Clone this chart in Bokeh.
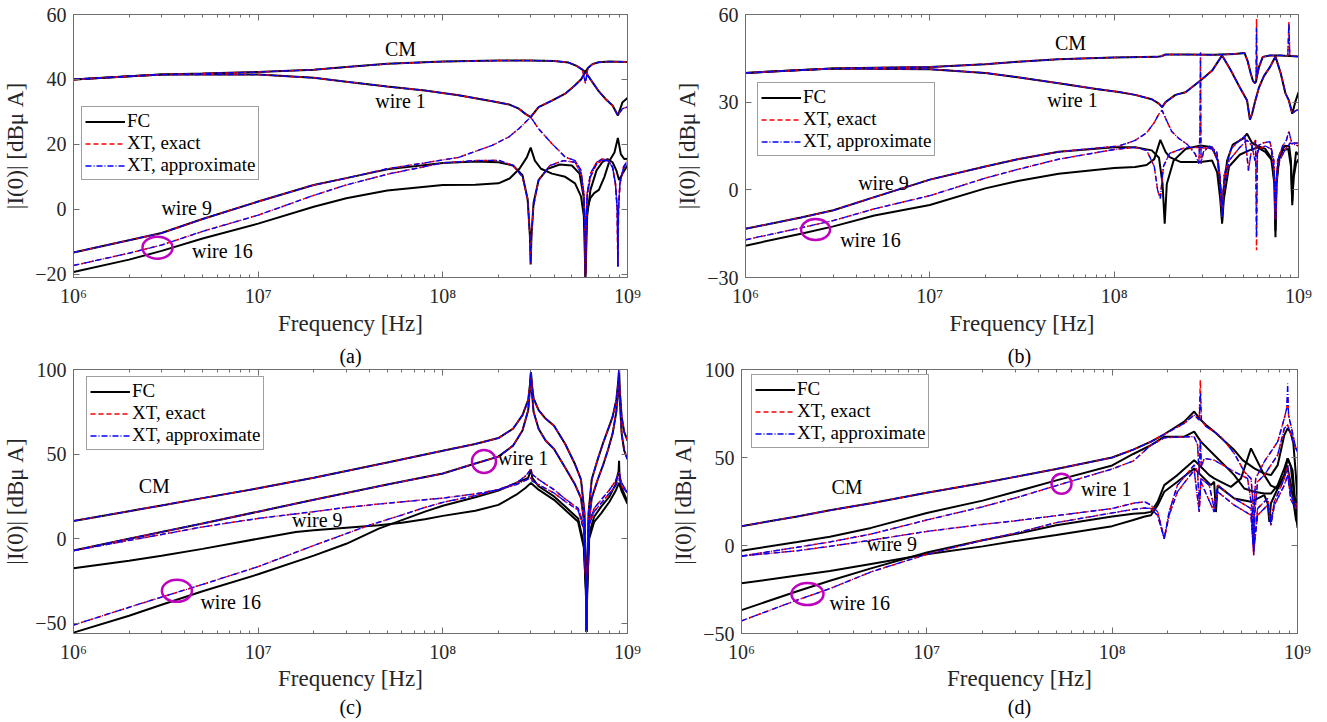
from bokeh.plotting import figure
from bokeh.layouts import column, row
from bokeh.models import FixedTicker, LogAxis, LinearAxis, Legend, LegendItem, Title
from bokeh.core.properties import value
from bokeh.embed import file_html
from bokeh.resources import INLINE

SERIF = "Liberation Serif"
AX = "#6e6e6e"
X_TICKS = [1e6, 1e7, 1e8, 1e9]
X_TICK_LABELS = ["10\u2076", "10\u2077", "10\u2078", "10\u2079"]
X_MINOR = [m * 10 ** e for e in (6, 7, 8) for m in range(2, 10)]
LEGEND_LABELS = ["FC", "XT, exact", "XT, approximate"]
LABEL_TEXTS = ["CM", "wire 1", "wire 9", "wire 16"]
SUB_LABELS = ["(a)", "(b)", "(c)", "(d)"]
Y_LABEL = "|I(0)| [dB\u03bc A]"
X_LABEL = "Frequency [Hz]"

# ---------------- panel (a) ----------------
A_CM_F = [1e6, 2e6, 3e6, 5e6, 1e7, 2e7, 3e7, 5e7, 1e8, 2e8, 3e8, 4e8, 4.8e8, 5.3e8, 5.7e8, 5.92e8, 6.1e8, 6.5e8, 7e8, 8e8, 1e9]
A_CM_FC = [40, 41, 41.5, 41.8, 42.3, 43, 43.8, 44.8, 45.5, 45.8, 45.8, 45.7, 45.2, 44.2, 43, 42.3, 43.5, 44.8, 45.3, 45.5, 45.4]
A_CM_XT = [40, 41, 41.5, 41.8, 42.3, 43, 43.8, 44.8, 45.5, 45.8, 45.8, 45.7, 45.2, 44.2, 43, 38.8, 43.5, 44.8, 45.3, 45.5, 45.4]
A_W1_F = [1e6, 3e6, 1e7, 2e7, 3e7, 5e7, 8e7, 1.22e8, 1.85e8, 2.28e8, 2.58e8, 2.8e8, 2.99e8, 3.3e8, 3.9e8, 4.6e8, 5.2e8, 5.6e8, 5.92e8, 6.4e8, 7e8, 7.6e8, 8.3e8, 8.87e8, 9.4e8, 1e9]
A_W1_FC = [40, 41.5, 41.5, 40.5, 39.3, 37.8, 36.6, 35.1, 33.3, 32.3, 31, 29.4, 28.4, 31.5, 33.5, 35.6, 38.2, 40, 42.3, 39.5, 36.3, 34, 32, 28.9, 33, 34.3]
A_W1_XT = [40, 41.5, 41.5, 40.5, 39.3, 37.8, 36.6, 35.1, 33.3, 32.3, 31, 29.4, 28.4, 31.5, 33.5, 35.6, 38.2, 40, 42.3, 39.5, 36.3, 34, 32, 28.9, 31, 31.5]
A_F9_F = [1e6, 2e6, 3e6, 5e6, 1e7, 2e7, 3e7, 5e7, 1e8, 1.5e8, 2e8, 2.4e8, 2.7e8, 2.88e8, 2.96e8, 2.99e8, 3.02e8, 3.1e8, 3.3e8, 3.7e8, 4.3e8, 5e8, 5.5e8, 5.78e8, 5.88e8, 5.92e8, 5.96e8, 6.05e8, 6.3e8, 6.6e8, 7e8, 7.5e8, 8e8, 8.5e8, 8.87e8, 9.2e8, 9.6e8, 1e9]
A_F9_V = [-13.3, -9.5, -7.3, -3, 2.4, 7.5, 9.6, 12.3, 14.3, 14.7, 14.5, 13.5, 10.5, 3, -8, -17, -8, 2, 9, 12.5, 13.8, 13.5, 11, 4, -6, -21, -6, 0, 3.5, 5, 6, 10, 15, 17.5, 22, 17, 15.5, 15.6]
A_F16_F = [1e6, 2e6, 3e6, 5e6, 1e7, 2e7, 3e7, 5e7, 1e8, 1.5e8, 2e8, 2.3e8, 2.6e8, 2.85e8, 2.99e8, 3.15e8, 3.4e8, 3.9e8, 4.6e8, 5.2e8, 5.6e8, 5.8e8, 5.92e8, 6.05e8, 6.3e8, 6.8e8, 7.3e8, 7.8e8, 8.3e8, 8.7e8, 9e8, 9.4e8, 1e9]
A_F16_V = [-19.3, -15.5, -12.8, -9, -4.4, 0.8, 3.4, 5.8, 7.5, 7.6, 8, 9.5, 12.5, 16, 19, 15, 12.5, 11, 10, 8, 4, -2, -21, -2, 6, 12, 14.5, 15.5, 14.5, 12, 9, 11, 13.5]
A_X9_F = [1e6, 2e6, 3e6, 5e6, 1e7, 2e7, 3e7, 5e7, 8e7, 1.22e8, 1.85e8, 2.28e8, 2.6e8, 2.8e8, 2.99e8, 3.3e8, 3.9e8, 4.6e8, 5.2e8, 5.6e8, 5.8e8, 5.88e8, 5.92e8, 5.96e8, 6.05e8, 6.3e8, 6.8e8, 7.3e8, 7.8e8, 8.3e8, 8.6e8, 8.8e8, 8.87e8, 8.94e8, 9.1e8, 9.5e8, 1e9]
A_X9_V = [-13.3, -9.5, -7.3, -3, 2.4, 7.5, 9.6, 12.5, 14.3, 16, 19.7, 22.3, 25, 26.8, 28.4, 24.8, 20.2, 16.1, 15, 12, 5, -5, -21, -5, 5, 11, 14.5, 15.5, 15.3, 13, 8, 0, -17.7, 0, 8, 13, 15]
A_X16_F = [1e6, 2e6, 3e6, 5e6, 1e7, 2e7, 3e7, 5e7, 1e8, 1.5e8, 2e8, 2.4e8, 2.7e8, 2.88e8, 2.96e8, 2.99e8, 3.02e8, 3.1e8, 3.3e8, 3.8e8, 4.5e8, 5.2e8, 5.6e8, 5.8e8, 5.88e8, 5.92e8, 5.96e8, 6.05e8, 6.3e8, 6.8e8, 7.3e8, 7.8e8, 8.3e8, 8.6e8, 8.8e8, 8.87e8, 8.94e8, 9.1e8, 9.5e8, 1e9]
A_X16_V = [-17.3, -13.5, -11, -6.8, -1.8, 4.3, 7.5, 10.8, 14.3, 15, 15.1, 13.5, 10, 3, -8, -16.7, -8, 1, 9, 13.5, 15, 14.5, 11, 4, -6, -21, -6, 4, 10, 14, 15, 15, 13, 8, 0, -17.7, 0, 8, 12.5, 14.5]
A_LBL_F = [5.9e7, 5.9e7, 4.1e6, 6.4e6]
A_LBL_V = [49.5, 33.5, 0.3, -12.7]
A_CIRC_F = [2.85e6]
A_CIRC_V = [-11.8]

# ---------------- panel (b) ----------------
B_CM_F = [1e6, 2e6, 3e6, 5e6, 1e7, 2e7, 3e7, 5e7, 1e8, 1.7e8, 1.8e8, 1.9e8, 2.5e8, 3.5e8, 4.5e8, 5.1e8, 5.3e8, 5.5e8, 5.65e8, 5.8e8, 5.88e8, 5.92e8, 5.96e8, 6.1e8, 6.4e8, 7e8, 8e8, 8.75e8, 8.87e8, 8.97e8, 9.5e8, 1e9]
B_CM_FC = [40, 41, 41.5, 41.8, 42, 43, 43.8, 44.7, 45.3, 45.5, 45.7, 46.3, 46.3, 46.2, 46.5, 46.8, 44, 40, 37.4, 36.5, 37, 38, 39, 42, 45.5, 46, 46, 45.8, 45.8, 45.8, 45.7, 45.6]
B_CM_XT = [40, 41, 41.5, 41.8, 42, 43, 43.8, 44.7, 45.3, 45.5, 45.7, 46.3, 46.3, 46.2, 46.5, 46.8, 44, 40, 37.4, 36.5, 37, 58.5, 39, 42, 45.5, 46, 46, 45.8, 57.4, 45.8, 45.7, 45.6]
B_CM_XA = [40, 41, 41.5, 41.8, 42, 43, 43.8, 44.7, 45.3, 45.5, 45.7, 46.3, 46.3, 46.2, 46.5, 46.8, 44, 40, 37.4, 36.5, 37, 55.5, 39, 42, 45.5, 46, 46, 45.8, 57, 45.8, 45.7, 45.6]
B_W1_F = [1e6, 3e6, 1e7, 2e7, 3e7, 5e7, 8e7, 1.06e8, 1.3e8, 1.6e8, 1.75e8, 1.82e8, 1.9e8, 2.15e8, 2.44e8, 2.94e8, 3.4e8, 3.85e8, 4.3e8, 4.8e8, 5.26e8, 5.45e8, 5.6e8, 5.8e8, 6.1e8, 6.5e8, 7e8, 7.5e8, 8e8, 8.5e8, 8.87e8, 9.25e8, 9.6e8, 1e9]
B_W1_FC = [40, 41.5, 41.3, 40, 38.5, 36.5, 34.5, 33.5, 32.5, 31, 29.5, 28.3, 30, 32.5, 33.4, 37.4, 40.8, 46, 40.8, 35.1, 30.6, 24, 26, 30, 35, 39, 42, 45.6, 40, 33, 30.6, 26, 30, 33.4]
B_W1_XT = [40, 41.5, 41.3, 40, 38.5, 36.5, 34.5, 33.5, 32.5, 31, 29.5, 28.3, 30, 32.5, 33.4, 37.4, 40.8, 46, 40.8, 35.1, 30.6, 24, 26, 30, 35, 39, 42, 45.6, 40, 33, 30.6, 26, 27, 27.5]
B_F9_F = [1e6, 2e6, 3e6, 5e6, 1e7, 2e7, 3e7, 5e7, 1e8, 1.3e8, 1.6e8, 1.75e8, 1.83e8, 1.88e8, 1.93e8, 2.1e8, 2.44e8, 2.94e8, 3.4e8, 3.65e8, 3.78e8, 3.85e8, 3.92e8, 4.1e8, 4.4e8, 5e8, 5.26e8, 5.6e8, 6e8, 6.6e8, 7.1e8, 7.4e8, 7.5e8, 7.6e8, 7.9e8, 8.4e8, 8.9e8, 9.1e8, 9.25e8, 9.4e8, 9.7e8, 1e9]
B_F9_V = [-13.3, -9.5, -7, -2.5, 3.5, 8, 10.5, 13, 14.6, 14.6, 13.5, 11, 2, -11.6, 2, 10, 14, 15.2, 14.6, 10, 0, -11.6, 0, 10, 15.5, 17.5, 19.2, 16, 15, 14, 11, 2, -16.2, 2, 12, 15, 15, 10, -5.3, 5, 13, 12]
B_F16_F = [1e6, 2e6, 3e6, 5e6, 1e7, 2e7, 3e7, 5e7, 1e8, 1.3e8, 1.5e8, 1.65e8, 1.78e8, 1.9e8, 2e8, 2.3e8, 2.94e8, 3.4e8, 3.62e8, 3.76e8, 3.85e8, 3.94e8, 4.2e8, 4.8e8, 5.4e8, 6e8, 6.6e8, 7.2e8, 7.42e8, 7.5e8, 7.58e8, 7.8e8, 8.2e8, 8.8e8, 9.1e8, 9.25e8, 9.4e8, 9.7e8, 1e9]
B_F16_V = [-19.1, -15, -12.5, -8.8, -5.2, 0.5, 3, 5.5, 7.5, 7.8, 8.5, 10.5, 17.1, 13, 11.2, 9.5, 9.5, 10, 6, -3, -11, -3, 8, 12, 13.5, 14.5, 13, 10, 2, -14, 2, 10, 13.5, 14, 8, -4, 4, 9, 10.5]
B_X9_F = [1e6, 2e6, 3e6, 5e6, 1e7, 2e7, 3e7, 5e7, 8e7, 1.06e8, 1.3e8, 1.5e8, 1.65e8, 1.75e8, 1.82e8, 1.9e8, 2.05e8, 2.25e8, 2.5e8, 2.75e8, 2.88e8, 2.92e8, 2.94e8, 2.96e8, 3.05e8, 3.3e8, 3.6e8, 3.75e8, 3.85e8, 3.95e8, 4.3e8, 4.8e8, 5.1e8, 5.25e8, 5.35e8, 5.6e8, 5.85e8, 5.92e8, 5.99e8, 6.4e8, 7e8, 7.35e8, 7.5e8, 7.7e8, 8.2e8, 8.6e8, 8.87e8, 9.2e8, 1e9]
B_X9_XT = [-13.3, -9.5, -7, -2.5, 3.5, 8, 10.5, 13, 14.3, 15, 16.9, 19.5, 23, 26, 27.2, 24.5, 20, 17.5, 15.5, 12.3, 9, 20, 47, 9, 13, 15, 13, 5, -9.3, 5, 14, 17, 18.5, 12, 6.6, 15, 17, -20.7, 15, 16, 16.5, 10, -10.5, 10, 15, 17, 20, 16, 16]
B_X9_XA = [-13.3, -9.5, -7, -2.5, 3.5, 8, 10.5, 13, 14.3, 15, 16.9, 19.5, 23, 26, 27.2, 24.5, 20, 17.5, 15.5, 12.3, 9, 20, 47, 9, 13, 15, 13, 5, -9.3, 5, 14, 17, 18.5, 12, 6.6, 15, 17, -16.2, 15, 16, 16.5, 10, -10.5, 10, 15, 17, 20, 16, 16]
B_X16_F = [1e6, 2e6, 3e6, 5e6, 1e7, 2e7, 3e7, 5e7, 1e8, 1.3e8, 1.5e8, 1.65e8, 1.72e8, 1.78e8, 1.85e8, 2e8, 2.44e8, 2.94e8, 3.4e8, 3.65e8, 3.78e8, 3.85e8, 3.92e8, 4.2e8, 4.8e8, 5.26e8, 5.6e8, 5.8e8, 6.1e8, 6.6e8, 7.1e8, 7.4e8, 7.5e8, 7.6e8, 7.9e8, 8.5e8, 9e8, 1e9]
B_X16_V = [-17.1, -13, -10.5, -6.5, -2, 4, 7, 10.5, 13.8, 14.5, 13.5, 8, 0, -3, 8, 12.5, 14.5, 14.5, 14, 10, 0, -9.3, 0, 10, 14.5, 17, 15, 10, 14, 15, 14, 5, -10, 5, 10, 14, 16, 15]
B_LBL_F = [5.8e7, 5.94e7, 5.6e6, 4.76e6]
B_LBL_V = [50.1, 30.6, 2.5, -17]
B_CIRC_F = [2.4e6]
B_CIRC_V = [-13.6]

# ---------------- panel (c) ----------------
C_F = [1e6, 2e6, 3e6, 5e6, 1e7, 2e7, 3e7, 5e7, 1e8, 1.5e8, 2e8, 2.4e8, 2.7e8, 2.9e8, 2.97e8, 3e8, 3.03e8, 3.1e8, 3.3e8, 3.6e8, 4e8, 4.6e8, 5.2e8, 5.6e8, 5.85e8, 5.95e8, 6e8, 6.05e8, 6.15e8, 6.4e8, 6.9e8, 7.4e8, 7.85e8, 8.3e8, 8.7e8, 8.95e8, 9e8, 9.05e8, 9.3e8, 9.6e8, 1e9]
C_CM_V = [10.5, 16.3, 19.7, 24, 29.8, 36, 40, 45, 52, 56, 59.5, 65, 73, 82, 92, 98.5, 92, 83, 76, 71, 66.8, 56, 44, 35, 15, -25, -55, -25, 15, 35, 47, 57, 64.6, 72, 82, 95, 100, 90, 72, 63, 58]
C_W1_V = [-7, 0, 4, 9, 16, 23, 27, 32, 38.5, 44.5, 48.5, 55, 64, 76, 90, 98, 88, 75, 65, 58, 53, 42, 32, 24, 8, -25, -55, -25, 8, 24, 35, 44, 52.7, 62, 75, 92, 100, 85, 62, 52, 47]
C_F9_F = [1e6, 2e6, 3e6, 5e6, 1e7, 1.6e7, 2e7, 3e7, 4.5e7, 6e7, 8e7, 1e8, 1.5e8, 2e8, 2.5e8, 2.8e8, 3e8, 3.3e8, 4e8, 4.6e8, 5.4e8, 5.8e8, 5.95e8, 6e8, 6.05e8, 6.2e8, 6.6e8, 7.2e8, 8e8, 8.6e8, 9e8, 9.3e8, 1e9]
C_F9_V = [-17.4, -13, -10, -6, 0, 4, 5, 6.5, 8, 9.5, 11.5, 13.5, 16.5, 20, 26, 30, 33, 29, 23, 17, 10, -5, -30, -55, -30, 0, 10, 15, 22, 28, 33, 28, 20.6]
C_F16_F = [1e6, 2e6, 3e6, 5e6, 1e7, 2e7, 3e7, 4.5e7, 6e7, 8e7, 1e8, 1.5e8, 2e8, 2.5e8, 2.9e8, 3e8, 3.05e8, 3.3e8, 4e8, 4.6e8, 5.4e8, 5.8e8, 5.95e8, 6e8, 6.05e8, 6.2e8, 6.6e8, 7.2e8, 8e8, 8.6e8, 8.95e8, 9e8, 9.05e8, 9.3e8, 1e9]
C_F16_V = [-55.5, -45.5, -39, -31, -21, -10, -3, 6, 11, 16, 19.5, 24.5, 28.5, 33, 36, 41, 36, 31, 25, 19, 12, -3, -30, -55, -30, 3, 13, 19, 25, 32, 40, 46, 38, 30, 22]
C_X9_F = [1e6, 2e6, 3e6, 5e6, 1e7, 2e7, 3e7, 5e7, 1e8, 1.5e8, 2e8, 2.5e8, 2.8e8, 3e8, 3.05e8, 3.3e8, 4e8, 4.6e8, 5.4e8, 5.8e8, 5.95e8, 6e8, 6.05e8, 6.2e8, 6.6e8, 7.2e8, 8e8, 8.6e8, 9e8, 9.3e8, 1e9]
C_X9_V = [-7, -1, 2.5, 7, 12, 16, 18.5, 21, 24, 26.5, 29, 33, 37, 41, 38, 35, 29, 23.5, 18, 8, -25, -55, -25, 10, 18, 23, 29, 34, 39.4, 33, 27]
C_X16_F = [1e6, 2e6, 3e6, 5e6, 1e7, 2e7, 3e7, 4e7, 6e7, 8e7, 1e8, 1.5e8, 2e8, 2.5e8, 3e8, 3.05e8, 3.3e8, 4e8, 4.6e8, 5.4e8, 5.8e8, 5.95e8, 6e8, 6.05e8, 6.2e8, 6.6e8, 7.2e8, 8e8, 8.6e8, 9e8, 9.3e8, 1e9]
C_X16_V = [-51, -40.5, -34.5, -27, -16.5, -4, 3, 8, 14, 18.5, 21.5, 25.5, 29, 32, 36, 34, 32, 27, 22, 17, 5, -25, -55, -25, 8, 16, 21, 27, 31, 36, 31, 27]
C_LBL_F = [2.74e6, 2.72e8, 2.09e7, 7.1e6]
C_LBL_V = [30.9, 47.6, 10.8, -37.1]
C_CIRC_F = [1.67e8, 3.63e6]
C_CIRC_V = [45.6, -30.8]

# ---------------- panel (d) ----------------
D_CMF_F = [1e6, 2e6, 3e6, 5e6, 1e7, 2e7, 3e7, 5e7, 1e8, 1.3e8, 1.62e8, 1.91e8, 2.45e8, 2.77e8, 3.01e8, 3.21e8, 3.55e8, 4.56e8, 5.06e8, 5.85e8, 6.62e8, 7.19e8, 7.82e8, 8.49e8, 8.85e8, 9.2e8, 9.5e8, 9.8e8, 1e9]
D_CMF_V = [11, 16.5, 20, 24, 30, 35.5, 39, 43.5, 50, 54.5, 59, 63.2, 70.4, 76.1, 71.3, 68.5, 64.7, 54.2, 48.5, 43.8, 40.9, 40, 45.7, 62.8, 66.6, 64, 58, 40, 25]
D_CMX_F = [1e6, 2e6, 3e6, 5e6, 1e7, 2e7, 3e7, 5e7, 1e8, 1.3e8, 1.62e8, 1.91e8, 2.45e8, 2.77e8, 2.95e8, 2.99e8, 3.03e8, 3.21e8, 3.55e8, 3.86e8, 4.56e8, 5.16e8, 5.61e8, 5.75e8, 5.8e8, 5.85e8, 5.95e8, 6.62e8, 7.82e8, 8.49e8, 8.75e8, 8.85e8, 8.95e8, 9.2e8, 9.8e8, 1e9]
D_CMX_XT = [11, 16.5, 20, 24, 30, 35.5, 39, 43.5, 50, 54.5, 59, 63.2, 69.4, 74.2, 71.3, 94, 71.3, 67.5, 64.7, 61.8, 52.3, 41.9, 38.1, 25, -5.6, 25, 38.1, 47.6, 59, 72.3, 78, 85, 74, 68.5, 55.2, 54]
D_CMX_XA = [11, 16.5, 20, 24, 30, 35.5, 39, 43.5, 50, 54.5, 59, 63.2, 69.4, 74.2, 71.3, 87, 71.3, 67.5, 64.7, 61.8, 52.3, 41.9, 38.1, 25, -5.6, 25, 38.1, 47.6, 59, 72.3, 78, 92, 74, 68.5, 55.2, 54]
D_W1F_F = [1e6, 2e6, 3e6, 5e6, 1e7, 2e7, 3e7, 5e7, 1e8, 1.3e8, 1.62e8, 1.91e8, 2.45e8, 2.77e8, 3.01e8, 3.55e8, 4.2e8, 4.56e8, 5.16e8, 5.85e8, 6.62e8, 7.19e8, 7.82e8, 8.49e8, 8.85e8, 9.4e8, 9.8e8, 1e9]
D_W1F_V = [-3, 2, 5, 10, 18.5, 25.5, 30.5, 37, 45.5, 52, 57, 61.8, 61.8, 64.7, 59, 51.4, 43.8, 40, 32.4, 30.5, 29.5, 29.5, 34.3, 43.8, 49.5, 42.8, 20, 10]
D_W1X_F = [1e6, 2e6, 3e6, 5e6, 1e7, 2e7, 3e7, 5e7, 1e8, 1.3e8, 1.62e8, 1.91e8, 2.45e8, 2.77e8, 2.89e8, 2.95e8, 2.99e8, 3.03e8, 3.14e8, 3.55e8, 4.56e8, 5.38e8, 5.7e8, 5.8e8, 5.9e8, 6.09e8, 6.62e8, 7.19e8, 7.82e8, 8.49e8, 8.85e8, 9.4e8, 9.8e8, 1e9]
D_W1X_V = [-6, -1, 2, 6.5, 14.5, 22, 27, 34, 43.5, 48, 57, 61.2, 61.8, 61.8, 57.1, 40, 60, 45, 49.5, 48.5, 41.9, 38.1, 20, -1.8, 20, 36.2, 40, 45.7, 51.4, 66.6, 68.5, 60, 55.2, 53]
D_W9F_F = [1e6, 2e6, 3e6, 5e6, 1e7, 2e7, 3e7, 5e7, 1e8, 1.3e8, 1.5e8, 1.62e8, 1.76e8, 1.91e8, 2.25e8, 2.77e8, 3.01e8, 3.41e8, 3.55e8, 3.63e8, 3.71e8, 4.56e8, 5.61e8, 6.62e8, 6.9e8, 7.05e8, 7.19e8, 7.82e8, 8.49e8, 8.85e8, 9.2e8, 9.8e8, 1e9]
D_W9F_V = [-21.5, -17, -14.5, -10.5, -5, -0.5, 2.5, 6, 11, 14.5, 16.5, 17.2, 22.9, 30.5, 36.2, 43.8, 40, 34.3, 36.2, 19, 34, 26.7, 24.8, 28.6, 24, 13.4, 24, 32.4, 40, 43.8, 35, 15, 12]
D_W16F_F = [1e6, 2e6, 3e6, 5e6, 1e7, 2e7, 3e7, 5e7, 1e8, 1.3e8, 1.5e8, 1.62e8, 1.76e8, 1.91e8, 2.25e8, 2.77e8, 3.01e8, 3.34e8, 3.55e8, 3.86e8, 4.37e8, 4.95e8, 5.61e8, 6.62e8, 7.19e8, 7.82e8, 8.49e8, 8.85e8, 9.2e8, 9.8e8, 1e9]
D_W16F_V = [-36.7, -26, -20, -13, -4, 3, 6.5, 11.5, 16.5, 18, 18.5, 19.1, 24.8, 34.3, 40, 48.5, 44.7, 40, 38.1, 36.2, 33.3, 38, 55.2, 40, 34, 32.4, 40, 49.5, 45, 20, 27]
D_W9X_F = [1e6, 2e6, 3e6, 5e6, 1e7, 2e7, 3e7, 5e7, 1e8, 1.3e8, 1.5e8, 1.62e8, 1.76e8, 1.91e8, 2.03e8, 2.25e8, 2.77e8, 2.89e8, 2.95e8, 3.01e8, 3.34e8, 3.55e8, 3.71e8, 4.56e8, 5.61e8, 5.8e8, 6.09e8, 6.9e8, 7.19e8, 7.5e8, 8.49e8, 8.85e8, 9.2e8, 9.8e8, 1e9]
D_W9X_V = [-6, -3, -0.5, 3, 8, 12, 14, 17, 21, 24, 24.8, 22.9, 19.1, 3.9, 19.1, 34.3, 45.7, 41.9, 22.9, 38.1, 34.3, 21, 34.3, 26.7, 21, -2.7, 21, 26.7, 13.4, 24.8, 38.1, 45.7, 28.6, 22.9, 24]
D_W16X_F = [1e6, 2e6, 3e6, 5e6, 1e7, 2e7, 3e7, 5e7, 1e8, 1.3e8, 1.5e8, 1.62e8, 1.76e8, 1.91e8, 2.03e8, 2.25e8, 2.77e8, 2.95e8, 3.01e8, 3.55e8, 3.71e8, 4.56e8, 5.61e8, 5.8e8, 6.09e8, 6.9e8, 7.19e8, 7.5e8, 8.49e8, 8.85e8, 9.2e8, 9.8e8, 1e9]
D_W16X_V = [-42.8, -31, -24.5, -15, -5, 3, 7, 13, 18.5, 20.5, 21.3, 21, 17, 3.9, 17.2, 30.5, 42.8, 19.1, 36.2, 19.1, 30.5, 22.9, 17.2, -3.7, 17.2, 22.9, 11.5, 22.9, 34.3, 40, 26, 21, 22]
D_LBL_F = [3.71e6, 9.3e7, 6.46e6, 4.35e6]
D_LBL_V = [33, 32, 0.7, -32.9]
D_CIRC_F = [5.33e7, 2.27e6]
D_CIRC_V = [35.1, -27.6]


def style_axis(ax, ticker, show_labels, tick_standoff=8, label_standoff=4):
    ax.ticker = ticker
    ax.axis_line_color = AX
    ax.major_tick_line_color = AX
    ax.minor_tick_line_color = AX
    ax.major_tick_in = 6
    ax.major_tick_out = 0
    ax.minor_tick_in = 3
    ax.minor_tick_out = 0
    ax.major_label_text_font = SERIF
    ax.major_label_text_color = "#262626"
    ax.axis_label_text_font = SERIF
    ax.axis_label_text_font_size = "23px"
    ax.axis_label_text_font_style = "normal"
    ax.axis_label_text_color = "#262626"
    ax.major_label_standoff = tick_standoff
    ax.axis_label_standoff = label_standoff
    if show_labels:
        ax.major_label_text_font_size = "20px"
    else:
        ax.major_label_text_font_size = "0px"
        ax.major_label_standoff = 0


def sub_title(text, standoff):
    return Title(text=text, align="center", text_font=SERIF, text_font_size="20px",
                 text_font_style="normal", text_color="black", standoff=standoff, offset=0)


def make_panel(fc, xt, xa, y_range, y_ticks, lbl_f, lbl_v, circ_f, circ_v, circ_w, circ_h,
               legend_xy, frame, borders, standoffs):
    fw, fh = frame
    bl, br, bt, bb = borders
    p = figure(x_axis_type="log", x_range=(1e6, 1e9), y_range=y_range,
               frame_width=fw, frame_height=fh,
               min_border_left=bl, min_border_right=br, min_border_top=bt, min_border_bottom=bb,
               output_backend="svg", toolbar_location=None, title=None,
               background_fill_color="white", border_fill_color="white")
    p.xgrid.visible = False
    p.ygrid.visible = False
    p.outline_line_color = AX
    p.outline_line_width = 1

    style_axis(p.xaxis[0], FixedTicker(ticks=X_TICKS, minor_ticks=X_MINOR), True, standoffs[0], standoffs[1])
    p.xaxis[0].major_label_overrides = {t: s for t, s in zip(X_TICKS, X_TICK_LABELS)}
    p.xaxis[0].axis_label = X_LABEL
    style_axis(p.yaxis[0], FixedTicker(ticks=y_ticks), True, 7, 4)
    p.yaxis[0].minor_tick_line_color = None
    p.yaxis[0].axis_label = Y_LABEL

    top = LogAxis()
    style_axis(top, FixedTicker(ticks=X_TICKS, minor_ticks=X_MINOR), False)
    top.major_label_overrides = {t: "" for t in X_TICKS}
    p.add_layout(top, "above")
    right = LinearAxis()
    style_axis(right, FixedTicker(ticks=y_ticks), False)
    right.minor_tick_line_color = None
    right.major_label_overrides = {t: "" for t in y_ticks}
    p.add_layout(right, "right")

    r_fc = [p.line(f, v, line_color="black", line_width=2) for f, v in fc]
    r_xt = [p.line(f, v, line_color="#FF0000", line_width=1.5, line_dash="5 3") for f, v in xt]
    r_xa = [p.line(f, v, line_color="#0000FF", line_width=1.3, line_dash="6 2 1 2") for f, v in xa]

    p.ellipse(x=circ_f, y=circ_v, width=circ_w, height=circ_h, width_units="screen",
              height_units="screen", fill_color=None, line_color="#BF00BF", line_width=2.5)
    p.text(x=lbl_f, y=lbl_v, text=LABEL_TEXTS, text_font=value(SERIF), text_font_size="20px",
           text_align="center", text_baseline="middle", text_color="black")

    legend = Legend(items=[LegendItem(label=LEGEND_LABELS[0], renderers=[r_fc[0]]),
                           LegendItem(label=LEGEND_LABELS[1], renderers=[r_xt[0]]),
                           LegendItem(label=LEGEND_LABELS[2], renderers=[r_xa[0]])],
                    location=legend_xy)
    legend.label_text_font = SERIF
    legend.label_text_font_size = "19px"
    legend.label_text_color = "black"
    legend.glyph_width = 40
    legend.glyph_height = 19
    legend.label_height = 19
    legend.label_standoff = 2
    legend.spacing = 0
    legend.padding = 3
    legend.margin = 0
    legend.border_line_color = "#404040"
    legend.border_line_width = 1
    legend.background_fill_alpha = 1
    p.add_layout(legend)
    return p


pa = make_panel(
    fc=[(A_CM_F, A_CM_FC), (A_W1_F, A_W1_FC), (A_F9_F, A_F9_V), (A_F16_F, A_F16_V)],
    xt=[(A_CM_F, A_CM_XT), (A_W1_F, A_W1_XT), (A_X9_F, A_X9_V), (A_X16_F, A_X16_V)],
    xa=[(A_CM_F, A_CM_XT), (A_W1_F, A_W1_XT), (A_X9_F, A_X9_V), (A_X16_F, A_X16_V)],
    y_range=(-21, 60), y_ticks=[-20, 0, 20, 40, 60],
    lbl_f=A_LBL_F, lbl_v=A_LBL_V, circ_f=A_CIRC_F, circ_v=A_CIRC_V, circ_w=[30], circ_h=[22],
    legend_xy=(8, 97), frame=(554, 263), borders=(68, 41, 14, 61), standoffs=(7, 1))

pb = make_panel(
    fc=[(B_CM_F, B_CM_FC), (B_W1_F, B_W1_FC), (B_F9_F, B_F9_V), (B_F16_F, B_F16_V)],
    xt=[(B_CM_F, B_CM_XT), (B_W1_F, B_W1_XT), (B_X9_F, B_X9_XT), (B_X16_F, B_X16_V)],
    xa=[(B_CM_F, B_CM_XA), (B_W1_F, B_W1_XT), (B_X9_F, B_X9_XA), (B_X16_F, B_X16_V)],
    y_range=(-30, 60), y_ticks=[-30, 0, 30, 60],
    lbl_f=B_LBL_F, lbl_v=B_LBL_V, circ_f=B_CIRC_F, circ_v=B_CIRC_V, circ_w=[29], circ_h=[21],
    legend_xy=(12, 121), frame=(553, 263), borders=(77, 34, 14, 61), standoffs=(7, 1))

pc = make_panel(
    fc=[(C_F, C_CM_V), (C_F, C_W1_V), (C_F9_F, C_F9_V), (C_F16_F, C_F16_V)],
    xt=[(C_F, C_CM_V), (C_F, C_W1_V), (C_X9_F, C_X9_V), (C_X16_F, C_X16_V)],
    xa=[(C_F, C_CM_V), (C_F, C_W1_V), (C_X9_F, C_X9_V), (C_X16_F, C_X16_V)],
    y_range=(-56, 100), y_ticks=[-50, 0, 50, 100],
    lbl_f=C_LBL_F, lbl_v=C_LBL_V, circ_f=C_CIRC_F, circ_v=C_CIRC_V, circ_w=[24, 30], circ_h=[23, 22],
    legend_xy=(13, 183), frame=(554, 264), borders=(72, 37, 31, 89), standoffs=(7, 0))

pd = make_panel(
    fc=[(D_CMF_F, D_CMF_V), (D_W1F_F, D_W1F_V), (D_W9F_F, D_W9F_V), (D_W16F_F, D_W16F_V)],
    xt=[(D_CMX_F, D_CMX_XT), (D_W1X_F, D_W1X_V), (D_W9X_F, D_W9X_V), (D_W16X_F, D_W16X_V)],
    xa=[(D_CMX_F, D_CMX_XA), (D_W1X_F, D_W1X_V), (D_W9X_F, D_W9X_V), (D_W16X_F, D_W16X_V)],
    y_range=(-50, 100), y_ticks=[-50, 0, 50, 100],
    lbl_f=D_LBL_F, lbl_v=D_LBL_V, circ_f=D_CIRC_F, circ_v=D_CIRC_V, circ_w=[20, 32], circ_h=[20, 22],
    legend_xy=(10, 185), frame=(556, 264), borders=(77, 31, 31, 89), standoffs=(7, 0))

# sub-figure captions: (a)/(b) sit in the gap just above the lower row, (c)/(d) below it
pc.add_layout(sub_title(SUB_LABELS[0], 6), "above")
pd.add_layout(sub_title(SUB_LABELS[1], 6), "above")
pc.add_layout(sub_title(SUB_LABELS[2], 0), "below")
pd.add_layout(sub_title(SUB_LABELS[3], 0), "below")

layout = column(row(pa, pb), row(pc, pd))
open("out.html", "w").write(file_html(layout, INLINE))
